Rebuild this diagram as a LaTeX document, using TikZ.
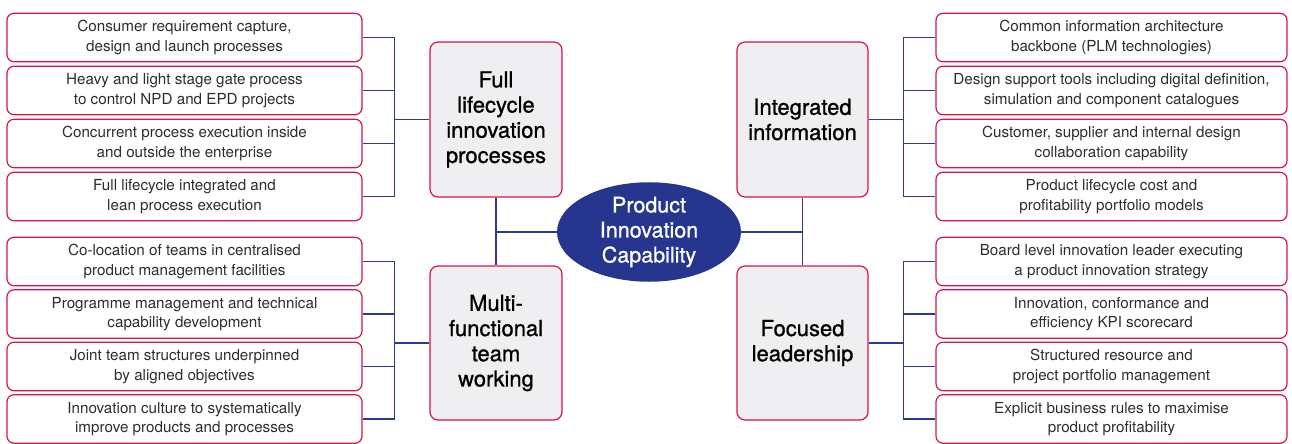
\documentclass[tikz,border=0pt]{standalone}
\usepackage{fontspec}
\setmainfont{TeX Gyre Heros}
\newfontfamily\pillarfont{TeX Gyre Heros}[FakeBold=0.9]
\usetikzlibrary{shapes.geometric}
\definecolor{edgered}{RGB}{214,22,68}
\definecolor{linkblue}{RGB}{44,56,148}
\definecolor{hubblue}{RGB}{38,54,142}
\definecolor{panelgray}{RGB}{239,239,241}
\definecolor{itemtext}{RGB}{45,45,45}
\begin{document}
\begin{tikzpicture}[x=1pt,y=-1pt,
  itembox/.style={draw=edgered,line width=1.2pt,rounded corners=7pt,fill=white,
    minimum width=#1,minimum height=48.5pt,inner sep=0pt,align=center,
    text=itemtext,font=\fontsize{15.2}{19.5}\selectfont,
    execute at begin node={\rule{0pt}{15.5pt}}},
  itembox/.default=355pt,
  pillar/.style={draw=edgered,line width=1.2pt,rounded corners=8pt,fill=panelgray,
    minimum width=132pt,minimum height=155pt,inner sep=0pt,align=center,
    text=black,font=\pillarfont\fontsize{22}{25.2}\selectfont},
  hub/.style={ellipse,fill=hubblue,minimum width=184pt,minimum height=97pt,inner sep=0pt,
    align=center,text=white,font=\pillarfont\fontsize{21.5}{25}\selectfont},
  link/.style={draw=linkblue,line width=1.2pt}]
\useasboundingbox (0,0) rectangle (1292,444);

% hub
\node[hub] (pic) at (649,232) {Product\\Innovation\\Capability};

% pillars
\node[pillar] (fl) at (496,119.5) {Full\\lifecycle\\innovation\\processes};
\node[pillar,minimum height=154pt] (mf) at (496,343) {Multi-\\functional\\team\\working};
\node[pillar,minimum width=131pt] (ii) at (802.5,119.5) {Integrated\\information};
\node[pillar,minimum width=131pt,minimum height=154pt] (fo) at (802.5,343) {Focused\\leadership};

% left items
\node[itembox] (l1) at (184.5,37.5) {Consumer requirement capture,\\design and launch processes};
\node[itembox] (l2) at (184.5,90.5) {Heavy and light stage gate process\\to control NPD and EPD projects};
\node[itembox] (l3) at (184.5,143.5) {Concurrent process execution inside\\and outside the enterprise};
\node[itembox] (l4) at (184.5,196.5) {Full lifecycle integrated and\\lean process execution};
\node[itembox] (l5) at (184.5,261.5) {Co-location of teams in centralised\\product management facilities};
\node[itembox] (l6) at (184.5,314) {Programme management and technical\\capability development};
\node[itembox] (l7) at (184.5,366.5) {Joint team structures underpinned\\by aligned objectives};
\node[itembox] (l8) at (184.5,419) {Innovation culture to systematically\\improve products and processes};

% right items
\node[itembox=351pt] (r1) at (1111.5,37.5) {Common information architecture\\backbone (PLM technologies)};
\node[itembox=351pt] (r2) at (1111.5,90.5) {Design support tools including digital definition,\\simulation and component catalogues};
\node[itembox=351pt] (r3) at (1111.5,143.5) {Customer, supplier and internal design\\collaboration capability};
\node[itembox=351pt] (r4) at (1111.5,196.5) {Product lifecycle cost and\\profitability portfolio models};
\node[itembox=351pt] (r5) at (1111.5,261.5) {Board level innovation leader executing\\a product innovation strategy};
\node[itembox=351pt] (r6) at (1111.5,314) {Innovation, conformance and\\efficiency KPI scorecard};
\node[itembox=351pt] (r7) at (1111.5,366.5) {Structured resource and\\project portfolio management};
\node[itembox=351pt] (r8) at (1111.5,419) {Explicit business rules to maximise\\product profitability};

% hub to pillars
\draw[link] (fl.south) -- (mf.north);
\draw[link] (ii.south) -- (fo.north);
\draw[link] (pic.west) -- (pic.west -| fl.south);
\draw[link] (pic.east) -- (pic.east -| ii.south);

% pillar brackets
\foreach \i in {1,2,3,4} \draw[link] (fl.west) -- ++(-35,0) |- (l\i.east);
\foreach \i in {5,6,7,8} \draw[link] (mf.west) -- ++(-35,0) |- (l\i.east);
\foreach \i in {1,2,3,4} \draw[link] (ii.east) -- ++(34.5,0) |- (r\i.west);
\foreach \i in {5,6,7,8} \draw[link] (fo.east) -- ++(34.5,0) |- (r\i.west);
\end{tikzpicture}
\end{document}
